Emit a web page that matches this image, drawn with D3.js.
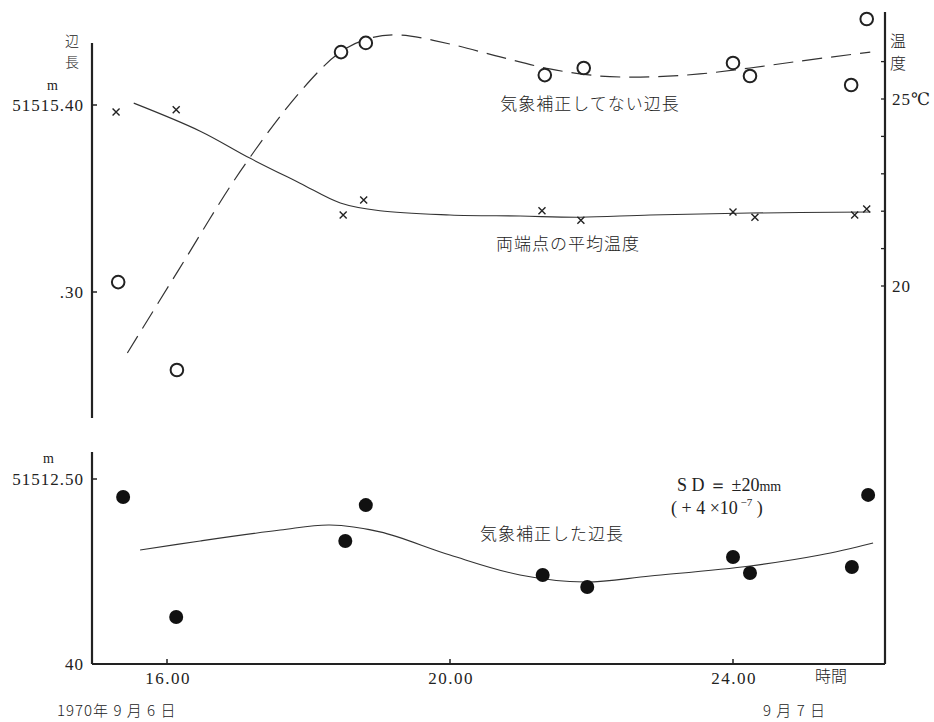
<!DOCTYPE html>
<html><head><meta charset="utf-8">
<script src="https://cdn.jsdelivr.net/npm/d3@7"></script>
<style>
body{margin:0;background:#fff;}
text{fill:#222;}
.num{font-family:"Liberation Serif","DejaVu Serif",serif;}
.jp{font-family:"Noto Sans CJK JP","Noto Sans CJK SC",sans-serif;font-weight:300;}
</style></head>
<body>
<svg id="c" width="934" height="722"></svg>
<script>
// ---- data ----
// uncorrected length (open circles), metres
const rawHours = [15.31,16.14,18.46,18.81,21.34,21.89,24.00,24.24,25.67,25.89];
const rawValues = [51515.3053,51515.2583,51515.4283,51515.4332,51515.4160,51515.4198,51515.4225,51515.4155,51515.4107,51515.4460];
// smoothed uncorrected curve (dashed)
const rawCurveHours = [15.44,16.18,17.03,17.88,18.45,18.87,19.29,20.0,20.71,21.41,22.12,22.83,23.53,24.24,24.95,25.94];
const rawCurveValues = [51515.2674,51515.3128,51515.3642,51515.4070,51515.4283,51515.4358,51515.4374,51515.4326,51515.4257,51515.4193,51515.4155,51515.4150,51515.4166,51515.4198,51515.4235,51515.4283];
// mean temperature of both ends (crosses), °C
const tempHours = [15.28,16.13,18.49,18.78,21.30,21.85,24.00,24.31,25.72,25.89];
const tempValues = [24.65,24.71,21.90,22.30,22.01,21.76,21.98,21.84,21.90,22.06];
const tempCurveHours = [15.53,16.47,17.17,17.88,18.45,19.01,20.0,20.99,21.84,22.83,24.24,25.94];
const tempCurveValues = [24.89,24.14,23.42,22.75,22.22,22.01,21.90,21.87,21.84,21.90,21.95,21.98];
// corrected length (filled dots)
const corHours = [15.38,16.13,18.52,18.81,21.31,21.94,24.00,24.24,25.68,25.91];
const corValues = [51512.4903,51512.4254,51512.4665,51512.4859,51512.4481,51512.4416,51512.4578,51512.4492,51512.4524,51512.4914];
const corCurveHours = [15.62,16.47,17.60,18.30,19.01,20.0,20.99,21.91,22.83,24.24,25.23,25.98];
const corCurveValues = [51512.4616,51512.4665,51512.4724,51512.4751,51512.4714,51512.4589,51512.4481,51512.4443,51512.4476,51512.4530,51512.4589,51512.4654];
// tick labels
const xTicks = [16,20,24];
const xTickLabels = ["16.00","20.00","24.00"];
const topTicks = [51515.30,51515.40];
const topTickLabels = [".30","51515.40"];
const tempTicks = [20,21,22,23,24,25,26];
const tempTickLabels = {20:"20",25:"25℃"};
const botTicks = [51512.40,51512.50];
const botTickLabels = ["40","51512.50"];

// ---- scales ----
const svg = d3.select("#c");
const x = d3.scaleLinear().domain([16,24]).range([167,733]);
const xL = 92, xR = 885;
const yTop = d3.scaleLinear().domain([51515.30,51515.40]).range([292,105]);
const yTemp = d3.scaleLinear().domain([20,25]).range([286,99]);
const yBot = d3.scaleLinear().domain([51512.40,51512.50]).range([664,479]);
const topY0 = 43, topY1 = 418, botY0 = 452, botY1 = 664, rightY0 = 12;

const ax = svg.append("g").attr("stroke","#222").attr("fill","none");
ax.append("line").attr("x1",xL).attr("x2",xL).attr("y1",topY0).attr("y2",topY1).attr("stroke-width",2.2);
ax.append("line").attr("x1",xL).attr("x2",xL).attr("y1",botY0).attr("y2",botY1).attr("stroke-width",2.2);
ax.append("line").attr("x1",xR).attr("x2",xR).attr("y1",rightY0).attr("y2",botY1).attr("stroke-width",2.2);
ax.append("line").attr("x1",xL).attr("x2",xR).attr("y1",botY1).attr("y2",botY1).attr("stroke-width",2);

xTicks.forEach(t=>ax.append("line").attr("x1",x(t)).attr("x2",x(t)).attr("y1",botY1).attr("y2",botY1-5).attr("stroke-width",1.5));
topTicks.forEach(t=>ax.append("line").attr("x1",xL).attr("x2",xL+5).attr("y1",yTop(t)).attr("y2",yTop(t)).attr("stroke-width",1.5));
botTicks.forEach(t=>ax.append("line").attr("x1",xL).attr("x2",xL+5).attr("y1",yBot(t)).attr("y2",yBot(t)).attr("stroke-width",1.5));
tempTicks.forEach(t=>ax.append("line").attr("x1",xR).attr("x2",xR-4).attr("y1",yTemp(t)).attr("y2",yTemp(t)).attr("stroke-width",1.3));

// tick labels
const num = svg.append("g").attr("class","num").attr("font-size",17).attr("letter-spacing",1);
xTicks.forEach((t,i)=>num.append("text").attr("x",x(t)+1).attr("y",684).attr("text-anchor","middle").attr("letter-spacing",1.5).text(xTickLabels[i]));
topTicks.forEach((t,i)=>num.append("text").attr("x",84).attr("y",yTop(t)+6).attr("text-anchor","end").text(topTickLabels[i]));
botTicks.forEach((t,i)=>num.append("text").attr("x",84).attr("y",yBot(t)+6).attr("text-anchor","end").text(botTickLabels[i]));
tempTicks.filter(t=>tempTickLabels[t]).forEach(t=>num.append("text").attr("x",892).attr("y",yTemp(t)+6).text(tempTickLabels[t]));
num.append("text").attr("x",53).attr("y",90).attr("font-size",14).attr("text-anchor","middle").text("m");
num.append("text").attr("x",49).attr("y",463).attr("font-size",14).attr("text-anchor","middle").text("m");

// axis titles (Japanese)
const jp = svg.append("g").attr("class","jp").attr("font-size",16);
jp.append("text").attr("x",72).attr("y",46).attr("font-size",14).attr("text-anchor","middle").text("辺");
jp.append("text").attr("x",72).attr("y",67).attr("font-size",14).attr("text-anchor","middle").text("長");
jp.append("text").attr("x",898).attr("y",47).attr("text-anchor","middle").text("温");
jp.append("text").attr("x",898).attr("y",69).attr("text-anchor","middle").text("度");
jp.append("text").attr("x",831).attr("y",682).attr("text-anchor","middle").text("時間");
jp.append("text").attr("x",57).attr("y",716).attr("font-size",15).attr("letter-spacing",1).text("1970年 9 月 6 日");
jp.append("text").attr("x",763).attr("y",716).attr("font-size",15).attr("letter-spacing",1).text("9 月 7 日");
jp.append("text").attr("x",590).attr("y",110).attr("text-anchor","middle").attr("font-size",17).attr("letter-spacing",1).text("気象補正してない辺長");
jp.append("text").attr("x",568).attr("y",250).attr("text-anchor","middle").attr("font-size",17).attr("letter-spacing",1).text("両端点の平均温度");
jp.append("text").attr("x",552).attr("y",540).attr("text-anchor","middle").attr("font-size",17).attr("letter-spacing",1).text("気象補正した辺長");

// SD annotation
const sd = svg.append("g").attr("class","num").attr("font-size",18);
const t1 = sd.append("text").attr("x",677).attr("y",491);
t1.append("tspan").text("S D ＝ ±20");
t1.append("tspan").attr("font-size",14).text("mm");
const t2 = sd.append("text").attr("x",671).attr("y",514);
t2.append("tspan").text("( + 4  ×10");
t2.append("tspan").attr("font-size",11).attr("dy",-8).text(" −7");
t2.append("tspan").attr("dy",8).text("   )");

// curves
const line = (ys)=>d3.line().x(d=>x(d[0])).y(d=>ys(d[1])).curve(d3.curveCatmullRom.alpha(0.5));
svg.append("path").datum(d3.zip(rawCurveHours,rawCurveValues))
  .attr("d",line(yTop)).attr("fill","none").attr("stroke","#333").attr("stroke-width",1.2)
  .attr("stroke-dasharray","20,9");
svg.append("path").datum(d3.zip(tempCurveHours,tempCurveValues))
  .attr("d",line(yTemp)).attr("fill","none").attr("stroke","#333").attr("stroke-width",1.1);
svg.append("path").datum(d3.zip(corCurveHours,corCurveValues))
  .attr("d",line(yBot)).attr("fill","none").attr("stroke","#333").attr("stroke-width",1.1);

// marks
svg.append("g").selectAll("circle").data(d3.zip(rawHours,rawValues)).join("circle")
  .attr("cx",d=>x(d[0])).attr("cy",d=>yTop(d[1])).attr("r",6.3)
  .attr("fill","#fff").attr("stroke","#222").attr("stroke-width",2);
svg.append("g").selectAll("path").data(d3.zip(tempHours,tempValues)).join("path")
  .attr("transform",d=>`translate(${x(d[0])},${yTemp(d[1])})`)
  .attr("d","M-3.5,-3.5L3.5,3.5M-3.5,3.5L3.5,-3.5").attr("stroke","#222").attr("stroke-width",1.4);
svg.append("g").selectAll("circle").data(d3.zip(corHours,corValues)).join("circle")
  .attr("cx",d=>x(d[0])).attr("cy",d=>yBot(d[1])).attr("r",7).attr("fill","#111");
</script>
</body></html>
